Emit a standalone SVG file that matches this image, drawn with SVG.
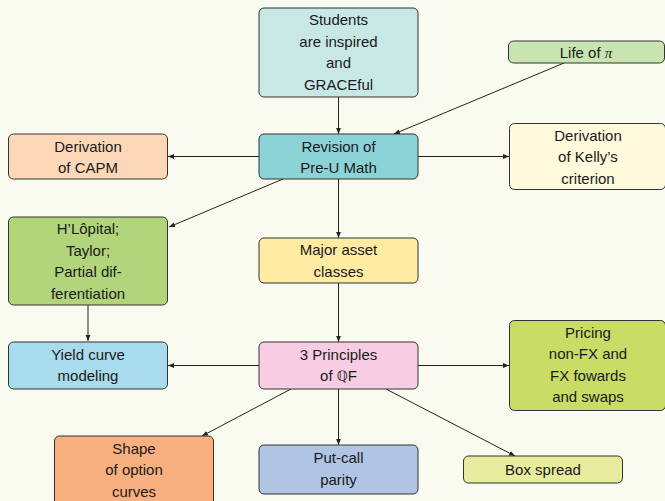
<svg xmlns="http://www.w3.org/2000/svg" width="665" height="501" viewBox="0 0 665 501">
<defs>
<marker id="ah" viewBox="0 0 10 10" refX="10" refY="5" markerWidth="6" markerHeight="6" orient="auto" markerUnits="userSpaceOnUse">
<path d="M0,1 L10,5 L0,9 z" fill="#222"/>
</marker>
<style>
.n{stroke:#333;stroke-width:1}
.t{font-family:"Liberation Sans",Arial,sans-serif;font-size:15px;fill:#1a1a1a;text-anchor:middle}
.c{stroke:#222;stroke-width:1;fill:none;marker-end:url(#ah)}
</style>
</defs>
<rect width="665" height="501" fill="#fafbf0"/>
<g id="connectors">
<line class="c" x1="338.5" y1="97" x2="338.5" y2="134"/>
<line class="c" x1="564" y1="63" x2="394" y2="134"/>
<line class="c" x1="259" y1="156.5" x2="168" y2="156.5"/>
<line class="c" x1="418" y1="156.5" x2="509" y2="156.5"/>
<line class="c" x1="283" y1="179" x2="169" y2="227"/>
<line class="c" x1="338.5" y1="179" x2="338.5" y2="238"/>
<line class="c" x1="338.5" y1="283" x2="338.5" y2="342"/>
<line class="c" x1="88" y1="305" x2="88" y2="341"/>
<line class="c" x1="259" y1="365.5" x2="168" y2="365.5"/>
<line class="c" x1="418" y1="365.5" x2="509" y2="365.5"/>
<line class="c" x1="291" y1="389" x2="202" y2="436"/>
<line class="c" x1="338.5" y1="389" x2="338.5" y2="445"/>
<line class="c" x1="386" y1="389" x2="515" y2="456"/>
</g>
<g id="students">
<rect class="n" x="259" y="8" width="159" height="89" rx="5" fill="#c8e8e6"/>
<text class="t" x="338.5" y="25">Students</text>
<text class="t" x="338.5" y="46.5">are inspired</text>
<text class="t" x="338.5" y="68">and</text>
<text class="t" x="338.5" y="89.5">GRACEful</text>
</g>
<g id="lifeofpi">
<rect class="n" x="508.5" y="41" width="156" height="22" rx="5" fill="#c8e4b0"/>
<text class="t" x="586" y="57.5">Life of <tspan font-family="'Liberation Serif',serif" font-style="italic">π</tspan></text>
</g>
<g id="revision">
<rect class="n" x="259" y="134" width="159" height="45" rx="5" fill="#8cd3d8"/>
<text class="t" x="338.5" y="151.5">Revision of</text>
<text class="t" x="338.5" y="173">Pre-U Math</text>
</g>
<g id="capm">
<rect class="n" x="8.5" y="134" width="159" height="45" rx="5" fill="#fdd8b8"/>
<text class="t" x="88" y="151.5">Derivation</text>
<text class="t" x="88" y="173">of CAPM</text>
</g>
<g id="kelly">
<rect class="n" x="509.5" y="123.5" width="156" height="66" rx="5" fill="#fffadb"/>
<text class="t" x="588" y="140.5">Derivation</text>
<text class="t" x="588" y="162">of Kelly’s</text>
<text class="t" x="588" y="183.5">criterion</text>
</g>
<g id="hlopital">
<rect class="n" x="8.5" y="217" width="159" height="88" rx="5" fill="#b2d47a"/>
<text class="t" x="88" y="234">H’Lôpital;</text>
<text class="t" x="88" y="255.5">Taylor;</text>
<text class="t" x="88" y="277">Partial dif-</text>
<text class="t" x="88" y="298.5">ferentiation</text>
</g>
<g id="major">
<rect class="n" x="259" y="238" width="159" height="45" rx="5" fill="#ffeba2"/>
<text class="t" x="338.5" y="255">Major asset</text>
<text class="t" x="338.5" y="276.5">classes</text>
</g>
<g id="yield">
<rect class="n" x="8.5" y="342" width="159" height="47" rx="5" fill="#a8dcec"/>
<text class="t" x="88" y="359.5">Yield curve</text>
<text class="t" x="88" y="381">modeling</text>
</g>
<g id="principles">
<rect class="n" x="259" y="342" width="159" height="47" rx="5" fill="#f8cce2"/>
<text class="t" x="338.5" y="359.5">3 Principles</text>
<text class="t" x="338.5" y="381">of <tspan font-family="'DejaVu Sans',sans-serif" font-size="14px">ℚ</tspan>F</text>
</g>
<g id="pricing">
<rect class="n" x="509.5" y="320.5" width="156" height="90" rx="5" fill="#c8dc66"/>
<text class="t" x="588" y="337.5">Pricing</text>
<text class="t" x="588" y="359">non-FX and</text>
<text class="t" x="588" y="380.5">FX fowards</text>
<text class="t" x="588" y="402">and swaps</text>
</g>
<g id="shape">
<rect class="n" x="54.5" y="436" width="159" height="70" rx="5" fill="#f8b080"/>
<text class="t" x="134" y="453.5">Shape</text>
<text class="t" x="134" y="475">of option</text>
<text class="t" x="134" y="496.5">curves</text>
</g>
<g id="putcall">
<rect class="n" x="259" y="445" width="159" height="49" rx="5" fill="#b0c4e4"/>
<text class="t" x="338.5" y="463">Put-call</text>
<text class="t" x="338.5" y="484.5">parity</text>
</g>
<g id="boxspread">
<rect class="n" x="463.5" y="456" width="159" height="27" rx="5" fill="#e8ec9e"/>
<text class="t" x="543" y="474.5">Box spread</text>
</g>
</svg>
